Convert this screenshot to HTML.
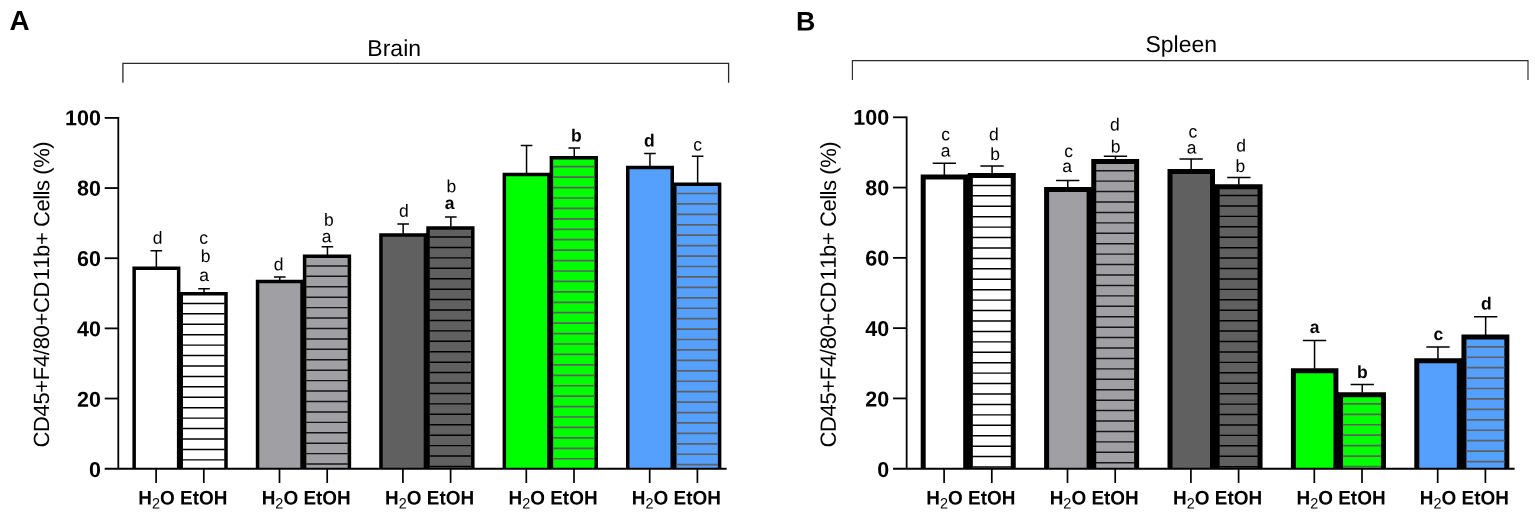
<!DOCTYPE html>
<html lang="en">
<head>
<meta charset="utf-8">
<title>CD45+F4/80+CD11b+ Cells in Brain and Spleen</title>
<style>
html,body{margin:0;padding:0;background:#fff;}
body{width:1535px;height:514px;overflow:hidden;font-family:"Liberation Sans",Arial,sans-serif;}
svg{display:block;}
text{font-family:"Liberation Sans",Arial,sans-serif;fill:#000;}
.yt{font-size:21.5px;font-weight:bold;text-anchor:end;}
.xl{font-size:18.95px;font-weight:bold;}
.sub{font-size:14.5px;font-weight:normal;}
.ln{font-size:17.5px;text-anchor:middle;}
.lb{font-size:17.5px;font-weight:bold;text-anchor:middle;}
.yl{font-size:22px;text-anchor:middle;letter-spacing:-0.34px;font-kerning:none;}
.tt{font-size:23px;text-anchor:middle;}
.pl{font-size:27.8px;font-weight:bold;}
</style>
</head>
<body>
<svg width="1535" height="514" viewBox="0 0 1535 514">
<rect width="1535" height="514" fill="#fff"/>
<g id="panelA">
<path d="M134.15 468.70V268.20H178.65V468.70" fill="#ffffff" stroke="#000" stroke-width="3.5"/>
<path d="M156.35 266.95V250.80M150.55 250.80H162.15" stroke="#000" stroke-width="1.5" fill="none"/>
<path d="M181.20 468.70V293.80H226.00V468.70" fill="#ffffff" stroke="#000" stroke-width="3.5"/>
<path d="M179.45 292.05V468.70" stroke="#000" stroke-width="1.6" fill="none"/>
<line x1="182.65" x2="224.55" y1="303.40" y2="303.40" stroke="#000" stroke-width="1.45"/>
<line x1="182.65" x2="224.55" y1="313.83" y2="313.83" stroke="#000" stroke-width="1.45"/>
<line x1="182.65" x2="224.55" y1="324.26" y2="324.26" stroke="#000" stroke-width="1.45"/>
<line x1="182.65" x2="224.55" y1="334.69" y2="334.69" stroke="#000" stroke-width="1.45"/>
<line x1="182.65" x2="224.55" y1="345.12" y2="345.12" stroke="#000" stroke-width="1.45"/>
<line x1="182.65" x2="224.55" y1="355.55" y2="355.55" stroke="#000" stroke-width="1.45"/>
<line x1="182.65" x2="224.55" y1="365.98" y2="365.98" stroke="#000" stroke-width="1.45"/>
<line x1="182.65" x2="224.55" y1="376.41" y2="376.41" stroke="#000" stroke-width="1.45"/>
<line x1="182.65" x2="224.55" y1="386.84" y2="386.84" stroke="#000" stroke-width="1.45"/>
<line x1="182.65" x2="224.55" y1="397.27" y2="397.27" stroke="#000" stroke-width="1.45"/>
<line x1="182.65" x2="224.55" y1="407.70" y2="407.70" stroke="#000" stroke-width="1.45"/>
<line x1="182.65" x2="224.55" y1="418.13" y2="418.13" stroke="#000" stroke-width="1.45"/>
<line x1="182.65" x2="224.55" y1="428.56" y2="428.56" stroke="#000" stroke-width="1.45"/>
<line x1="182.65" x2="224.55" y1="438.99" y2="438.99" stroke="#000" stroke-width="1.45"/>
<line x1="182.65" x2="224.55" y1="449.42" y2="449.42" stroke="#000" stroke-width="1.45"/>
<line x1="182.65" x2="224.55" y1="459.85" y2="459.85" stroke="#000" stroke-width="1.45"/>
<path d="M204.05 292.55V288.70M198.25 288.70H209.85" stroke="#000" stroke-width="1.5" fill="none"/>
<path d="M257.55 468.70V281.60H302.05V468.70" fill="#a0a0a4" stroke="#000" stroke-width="3.5"/>
<path d="M279.75 280.35V277.00M273.95 277.00H285.55" stroke="#000" stroke-width="1.5" fill="none"/>
<path d="M304.60 468.70V256.20H349.40V468.70" fill="#a0a0a4" stroke="#000" stroke-width="3.5"/>
<path d="M302.85 279.85V468.70" stroke="#000" stroke-width="1.6" fill="none"/>
<line x1="306.05" x2="347.95" y1="265.90" y2="265.90" stroke="#151515" stroke-width="1.45"/>
<line x1="306.05" x2="347.95" y1="276.33" y2="276.33" stroke="#151515" stroke-width="1.45"/>
<line x1="306.05" x2="347.95" y1="286.76" y2="286.76" stroke="#151515" stroke-width="1.45"/>
<line x1="306.05" x2="347.95" y1="297.19" y2="297.19" stroke="#151515" stroke-width="1.45"/>
<line x1="306.05" x2="347.95" y1="307.62" y2="307.62" stroke="#151515" stroke-width="1.45"/>
<line x1="306.05" x2="347.95" y1="318.05" y2="318.05" stroke="#151515" stroke-width="1.45"/>
<line x1="306.05" x2="347.95" y1="328.48" y2="328.48" stroke="#151515" stroke-width="1.45"/>
<line x1="306.05" x2="347.95" y1="338.91" y2="338.91" stroke="#151515" stroke-width="1.45"/>
<line x1="306.05" x2="347.95" y1="349.34" y2="349.34" stroke="#151515" stroke-width="1.45"/>
<line x1="306.05" x2="347.95" y1="359.77" y2="359.77" stroke="#151515" stroke-width="1.45"/>
<line x1="306.05" x2="347.95" y1="370.20" y2="370.20" stroke="#151515" stroke-width="1.45"/>
<line x1="306.05" x2="347.95" y1="380.63" y2="380.63" stroke="#151515" stroke-width="1.45"/>
<line x1="306.05" x2="347.95" y1="391.06" y2="391.06" stroke="#151515" stroke-width="1.45"/>
<line x1="306.05" x2="347.95" y1="401.49" y2="401.49" stroke="#151515" stroke-width="1.45"/>
<line x1="306.05" x2="347.95" y1="411.92" y2="411.92" stroke="#151515" stroke-width="1.45"/>
<line x1="306.05" x2="347.95" y1="422.35" y2="422.35" stroke="#151515" stroke-width="1.45"/>
<line x1="306.05" x2="347.95" y1="432.78" y2="432.78" stroke="#151515" stroke-width="1.45"/>
<line x1="306.05" x2="347.95" y1="443.21" y2="443.21" stroke="#151515" stroke-width="1.45"/>
<line x1="306.05" x2="347.95" y1="453.64" y2="453.64" stroke="#151515" stroke-width="1.45"/>
<line x1="306.05" x2="347.95" y1="464.07" y2="464.07" stroke="#151515" stroke-width="1.45"/>
<path d="M327.45 254.95V246.70M321.65 246.70H333.25" stroke="#000" stroke-width="1.5" fill="none"/>
<path d="M380.95 468.70V234.90H425.45V468.70" fill="#606060" stroke="#000" stroke-width="3.5"/>
<path d="M403.15 233.65V223.90M397.35 223.90H408.95" stroke="#000" stroke-width="1.5" fill="none"/>
<path d="M428.00 468.70V227.90H472.80V468.70" fill="#606060" stroke="#000" stroke-width="3.5"/>
<path d="M426.25 233.15V468.70" stroke="#000" stroke-width="1.6" fill="none"/>
<line x1="429.45" x2="471.35" y1="237.00" y2="237.00" stroke="#000" stroke-width="1.45"/>
<line x1="429.45" x2="471.35" y1="247.43" y2="247.43" stroke="#000" stroke-width="1.45"/>
<line x1="429.45" x2="471.35" y1="257.86" y2="257.86" stroke="#000" stroke-width="1.45"/>
<line x1="429.45" x2="471.35" y1="268.29" y2="268.29" stroke="#000" stroke-width="1.45"/>
<line x1="429.45" x2="471.35" y1="278.72" y2="278.72" stroke="#000" stroke-width="1.45"/>
<line x1="429.45" x2="471.35" y1="289.15" y2="289.15" stroke="#000" stroke-width="1.45"/>
<line x1="429.45" x2="471.35" y1="299.58" y2="299.58" stroke="#000" stroke-width="1.45"/>
<line x1="429.45" x2="471.35" y1="310.01" y2="310.01" stroke="#000" stroke-width="1.45"/>
<line x1="429.45" x2="471.35" y1="320.44" y2="320.44" stroke="#000" stroke-width="1.45"/>
<line x1="429.45" x2="471.35" y1="330.87" y2="330.87" stroke="#000" stroke-width="1.45"/>
<line x1="429.45" x2="471.35" y1="341.30" y2="341.30" stroke="#000" stroke-width="1.45"/>
<line x1="429.45" x2="471.35" y1="351.73" y2="351.73" stroke="#000" stroke-width="1.45"/>
<line x1="429.45" x2="471.35" y1="362.16" y2="362.16" stroke="#000" stroke-width="1.45"/>
<line x1="429.45" x2="471.35" y1="372.59" y2="372.59" stroke="#000" stroke-width="1.45"/>
<line x1="429.45" x2="471.35" y1="383.02" y2="383.02" stroke="#000" stroke-width="1.45"/>
<line x1="429.45" x2="471.35" y1="393.45" y2="393.45" stroke="#000" stroke-width="1.45"/>
<line x1="429.45" x2="471.35" y1="403.88" y2="403.88" stroke="#000" stroke-width="1.45"/>
<line x1="429.45" x2="471.35" y1="414.31" y2="414.31" stroke="#000" stroke-width="1.45"/>
<line x1="429.45" x2="471.35" y1="424.74" y2="424.74" stroke="#000" stroke-width="1.45"/>
<line x1="429.45" x2="471.35" y1="435.17" y2="435.17" stroke="#000" stroke-width="1.45"/>
<line x1="429.45" x2="471.35" y1="445.60" y2="445.60" stroke="#000" stroke-width="1.45"/>
<line x1="429.45" x2="471.35" y1="456.03" y2="456.03" stroke="#000" stroke-width="1.45"/>
<line x1="429.45" x2="471.35" y1="466.46" y2="466.46" stroke="#000" stroke-width="1.45"/>
<path d="M450.85 226.65V217.00M445.05 217.00H456.65" stroke="#000" stroke-width="1.5" fill="none"/>
<path d="M504.35 468.70V174.60H548.85V468.70" fill="#00ff00" stroke="#000" stroke-width="3.5"/>
<path d="M526.55 173.35V145.50M520.75 145.50H532.35" stroke="#000" stroke-width="1.5" fill="none"/>
<path d="M551.40 468.70V157.80H596.20V468.70" fill="#00ff00" stroke="#000" stroke-width="3.5"/>
<path d="M549.65 172.85V468.70" stroke="#000" stroke-width="1.6" fill="none"/>
<line x1="552.85" x2="594.75" y1="166.70" y2="166.70" stroke="#5e5e5e" stroke-width="1.7"/>
<line x1="552.85" x2="594.75" y1="177.13" y2="177.13" stroke="#5e5e5e" stroke-width="1.7"/>
<line x1="552.85" x2="594.75" y1="187.56" y2="187.56" stroke="#5e5e5e" stroke-width="1.7"/>
<line x1="552.85" x2="594.75" y1="197.99" y2="197.99" stroke="#5e5e5e" stroke-width="1.7"/>
<line x1="552.85" x2="594.75" y1="208.42" y2="208.42" stroke="#5e5e5e" stroke-width="1.7"/>
<line x1="552.85" x2="594.75" y1="218.85" y2="218.85" stroke="#5e5e5e" stroke-width="1.7"/>
<line x1="552.85" x2="594.75" y1="229.28" y2="229.28" stroke="#5e5e5e" stroke-width="1.7"/>
<line x1="552.85" x2="594.75" y1="239.71" y2="239.71" stroke="#5e5e5e" stroke-width="1.7"/>
<line x1="552.85" x2="594.75" y1="250.14" y2="250.14" stroke="#5e5e5e" stroke-width="1.7"/>
<line x1="552.85" x2="594.75" y1="260.57" y2="260.57" stroke="#5e5e5e" stroke-width="1.7"/>
<line x1="552.85" x2="594.75" y1="271.00" y2="271.00" stroke="#5e5e5e" stroke-width="1.7"/>
<line x1="552.85" x2="594.75" y1="281.43" y2="281.43" stroke="#5e5e5e" stroke-width="1.7"/>
<line x1="552.85" x2="594.75" y1="291.86" y2="291.86" stroke="#5e5e5e" stroke-width="1.7"/>
<line x1="552.85" x2="594.75" y1="302.29" y2="302.29" stroke="#5e5e5e" stroke-width="1.7"/>
<line x1="552.85" x2="594.75" y1="312.72" y2="312.72" stroke="#5e5e5e" stroke-width="1.7"/>
<line x1="552.85" x2="594.75" y1="323.15" y2="323.15" stroke="#5e5e5e" stroke-width="1.7"/>
<line x1="552.85" x2="594.75" y1="333.58" y2="333.58" stroke="#5e5e5e" stroke-width="1.7"/>
<line x1="552.85" x2="594.75" y1="344.01" y2="344.01" stroke="#5e5e5e" stroke-width="1.7"/>
<line x1="552.85" x2="594.75" y1="354.44" y2="354.44" stroke="#5e5e5e" stroke-width="1.7"/>
<line x1="552.85" x2="594.75" y1="364.87" y2="364.87" stroke="#5e5e5e" stroke-width="1.7"/>
<line x1="552.85" x2="594.75" y1="375.30" y2="375.30" stroke="#5e5e5e" stroke-width="1.7"/>
<line x1="552.85" x2="594.75" y1="385.73" y2="385.73" stroke="#5e5e5e" stroke-width="1.7"/>
<line x1="552.85" x2="594.75" y1="396.16" y2="396.16" stroke="#5e5e5e" stroke-width="1.7"/>
<line x1="552.85" x2="594.75" y1="406.59" y2="406.59" stroke="#5e5e5e" stroke-width="1.7"/>
<line x1="552.85" x2="594.75" y1="417.02" y2="417.02" stroke="#5e5e5e" stroke-width="1.7"/>
<line x1="552.85" x2="594.75" y1="427.45" y2="427.45" stroke="#5e5e5e" stroke-width="1.7"/>
<line x1="552.85" x2="594.75" y1="437.88" y2="437.88" stroke="#5e5e5e" stroke-width="1.7"/>
<line x1="552.85" x2="594.75" y1="448.31" y2="448.31" stroke="#5e5e5e" stroke-width="1.7"/>
<line x1="552.85" x2="594.75" y1="458.74" y2="458.74" stroke="#5e5e5e" stroke-width="1.7"/>
<path d="M574.25 156.55V147.90M568.45 147.90H580.05" stroke="#000" stroke-width="1.5" fill="none"/>
<path d="M627.75 468.70V167.40H672.25V468.70" fill="#55a0fd" stroke="#000" stroke-width="3.5"/>
<path d="M649.95 166.15V153.50M644.15 153.50H655.75" stroke="#000" stroke-width="1.5" fill="none"/>
<path d="M674.80 468.70V184.20H719.60V468.70" fill="#55a0fd" stroke="#000" stroke-width="3.5"/>
<path d="M673.05 182.45V468.70" stroke="#000" stroke-width="1.6" fill="none"/>
<line x1="676.25" x2="718.15" y1="193.50" y2="193.50" stroke="#5e6066" stroke-width="1.7"/>
<line x1="676.25" x2="718.15" y1="203.93" y2="203.93" stroke="#5e6066" stroke-width="1.7"/>
<line x1="676.25" x2="718.15" y1="214.36" y2="214.36" stroke="#5e6066" stroke-width="1.7"/>
<line x1="676.25" x2="718.15" y1="224.79" y2="224.79" stroke="#5e6066" stroke-width="1.7"/>
<line x1="676.25" x2="718.15" y1="235.22" y2="235.22" stroke="#5e6066" stroke-width="1.7"/>
<line x1="676.25" x2="718.15" y1="245.65" y2="245.65" stroke="#5e6066" stroke-width="1.7"/>
<line x1="676.25" x2="718.15" y1="256.08" y2="256.08" stroke="#5e6066" stroke-width="1.7"/>
<line x1="676.25" x2="718.15" y1="266.51" y2="266.51" stroke="#5e6066" stroke-width="1.7"/>
<line x1="676.25" x2="718.15" y1="276.94" y2="276.94" stroke="#5e6066" stroke-width="1.7"/>
<line x1="676.25" x2="718.15" y1="287.37" y2="287.37" stroke="#5e6066" stroke-width="1.7"/>
<line x1="676.25" x2="718.15" y1="297.80" y2="297.80" stroke="#5e6066" stroke-width="1.7"/>
<line x1="676.25" x2="718.15" y1="308.23" y2="308.23" stroke="#5e6066" stroke-width="1.7"/>
<line x1="676.25" x2="718.15" y1="318.66" y2="318.66" stroke="#5e6066" stroke-width="1.7"/>
<line x1="676.25" x2="718.15" y1="329.09" y2="329.09" stroke="#5e6066" stroke-width="1.7"/>
<line x1="676.25" x2="718.15" y1="339.52" y2="339.52" stroke="#5e6066" stroke-width="1.7"/>
<line x1="676.25" x2="718.15" y1="349.95" y2="349.95" stroke="#5e6066" stroke-width="1.7"/>
<line x1="676.25" x2="718.15" y1="360.38" y2="360.38" stroke="#5e6066" stroke-width="1.7"/>
<line x1="676.25" x2="718.15" y1="370.81" y2="370.81" stroke="#5e6066" stroke-width="1.7"/>
<line x1="676.25" x2="718.15" y1="381.24" y2="381.24" stroke="#5e6066" stroke-width="1.7"/>
<line x1="676.25" x2="718.15" y1="391.67" y2="391.67" stroke="#5e6066" stroke-width="1.7"/>
<line x1="676.25" x2="718.15" y1="402.10" y2="402.10" stroke="#5e6066" stroke-width="1.7"/>
<line x1="676.25" x2="718.15" y1="412.53" y2="412.53" stroke="#5e6066" stroke-width="1.7"/>
<line x1="676.25" x2="718.15" y1="422.96" y2="422.96" stroke="#5e6066" stroke-width="1.7"/>
<line x1="676.25" x2="718.15" y1="433.39" y2="433.39" stroke="#5e6066" stroke-width="1.7"/>
<line x1="676.25" x2="718.15" y1="443.82" y2="443.82" stroke="#5e6066" stroke-width="1.7"/>
<line x1="676.25" x2="718.15" y1="454.25" y2="454.25" stroke="#5e6066" stroke-width="1.7"/>
<line x1="676.25" x2="718.15" y1="464.68" y2="464.68" stroke="#5e6066" stroke-width="1.7"/>
<path d="M697.65 182.95V156.30M691.85 156.30H703.45" stroke="#000" stroke-width="1.5" fill="none"/>
<path d="M118.30 117.00V468.70" stroke="#000" stroke-width="1.8" fill="none"/>
<path d="M104.70 468.70H726.65" stroke="#000" stroke-width="2" fill="none"/>
<path d="M104.70 398.54H118.30" stroke="#000" stroke-width="1.8" fill="none"/>
<path d="M104.70 328.38H118.30" stroke="#000" stroke-width="1.8" fill="none"/>
<path d="M104.70 258.22H118.30" stroke="#000" stroke-width="1.8" fill="none"/>
<path d="M104.70 188.06H118.30" stroke="#000" stroke-width="1.8" fill="none"/>
<path d="M104.70 117.90H118.30" stroke="#000" stroke-width="1.8" fill="none"/>
<text class="yt" transform="translate(100.90 477.00) matrix(1 0.001 0 1 0 0)">0</text>
<text class="yt" transform="translate(100.90 406.66) matrix(1 0.001 0 1 0 0)">20</text>
<text class="yt" transform="translate(100.90 336.32) matrix(1 0.001 0 1 0 0)">40</text>
<text class="yt" transform="translate(100.90 265.98) matrix(1 0.001 0 1 0 0)">60</text>
<text class="yt" transform="translate(100.90 195.64) matrix(1 0.001 0 1 0 0)">80</text>
<text class="yt" transform="translate(100.90 125.30) matrix(1 0.001 0 1 0 0)">100</text>
<path d="M156.10 468.70V483" stroke="#000" stroke-width="1.7" fill="none"/>
<path d="M203.80 468.70V483" stroke="#000" stroke-width="1.7" fill="none"/>
<text class="xl" transform="translate(138.25 504.4) matrix(1 0.001 0 1.045 0 0)">H<tspan class="sub" dy="4.0">2</tspan><tspan dy="-4.0">O EtOH</tspan></text>
<path d="M279.50 468.70V483" stroke="#000" stroke-width="1.7" fill="none"/>
<path d="M327.20 468.70V483" stroke="#000" stroke-width="1.7" fill="none"/>
<text class="xl" transform="translate(261.65 504.4) matrix(1 0.001 0 1.045 0 0)">H<tspan class="sub" dy="4.0">2</tspan><tspan dy="-4.0">O EtOH</tspan></text>
<path d="M402.90 468.70V483" stroke="#000" stroke-width="1.7" fill="none"/>
<path d="M450.60 468.70V483" stroke="#000" stroke-width="1.7" fill="none"/>
<text class="xl" transform="translate(385.05 504.4) matrix(1 0.001 0 1.045 0 0)">H<tspan class="sub" dy="4.0">2</tspan><tspan dy="-4.0">O EtOH</tspan></text>
<path d="M526.30 468.70V483" stroke="#000" stroke-width="1.7" fill="none"/>
<path d="M574.00 468.70V483" stroke="#000" stroke-width="1.7" fill="none"/>
<text class="xl" transform="translate(508.45 504.4) matrix(1 0.001 0 1.045 0 0)">H<tspan class="sub" dy="4.0">2</tspan><tspan dy="-4.0">O EtOH</tspan></text>
<path d="M649.70 468.70V483" stroke="#000" stroke-width="1.7" fill="none"/>
<path d="M697.40 468.70V483" stroke="#000" stroke-width="1.7" fill="none"/>
<text class="xl" transform="translate(631.85 504.4) matrix(1 0.001 0 1.045 0 0)">H<tspan class="sub" dy="4.0">2</tspan><tspan dy="-4.0">O EtOH</tspan></text>
<text class="ln" transform="translate(157.5 243.8) matrix(1 0.001 0 1 0 0)">d</text>
<text class="ln" transform="translate(203.5 243.7) matrix(1 0.001 0 1 0 0)">c</text>
<text class="ln" transform="translate(205.5 262.0) matrix(1 0.001 0 1 0 0)">b</text>
<text class="ln" transform="translate(204.0 281.1) matrix(1 0.001 0 1 0 0)">a</text>
<text class="ln" transform="translate(278.6 270.3) matrix(1 0.001 0 1 0 0)">d</text>
<text class="ln" transform="translate(328.8 225.8) matrix(1 0.001 0 1 0 0)">b</text>
<text class="ln" transform="translate(326.5 242.2) matrix(1 0.001 0 1 0 0)">a</text>
<text class="ln" transform="translate(403.9 216.8) matrix(1 0.001 0 1 0 0)">d</text>
<text class="ln" transform="translate(451.4 192.2) matrix(1 0.001 0 1 0 0)">b</text>
<text class="lb" transform="translate(449.6 208.9) matrix(1 0.001 0 1 0 0)">a</text>
<text class="lb" transform="translate(576.4 141.4) matrix(1 0.001 0 1 0 0)">b</text>
<text class="lb" transform="translate(649.4 146.4) matrix(1 0.001 0 1 0 0)">d</text>
<text class="ln" transform="translate(697.5 150.6) matrix(1 0.001 0 1 0 0)">c</text>
<text class="yl" transform="translate(49.1 294.7) rotate(-89.95)">CD45+F4/80+CD<tspan dx="1.5" style="letter-spacing:-0.45px">11b+ Cells (%)</tspan></text>
<path d="M122.9 82.7V63.3H728.6V82.7" stroke="#2a2a2a" stroke-width="1.3" fill="none"/>
<text class="tt" transform="translate(394.2 56.0) matrix(1 0.001 0 1 0 0)">Brain</text>
<text class="pl" style="font-size:27.8px" transform="translate(9.6 30.1) matrix(1 0.001 0 1 0 0)">A</text>
</g>
<g id="panelB">
<path d="M923.20 468.70V177.00H965.70V468.70" fill="#ffffff" stroke="#000" stroke-width="5.0"/>
<path d="M944.35 175.00V163.20M932.70 163.20H956.00" stroke="#000" stroke-width="1.5" fill="none"/>
<path d="M970.35 468.70V175.60H1013.25V468.70" fill="#ffffff" stroke="#000" stroke-width="5.0"/>
<path d="M967.85 174.50V468.70" stroke="#000" stroke-width="1.6" fill="none"/>
<line x1="972.55" x2="1011.05" y1="185.40" y2="185.40" stroke="#000" stroke-width="1.45"/>
<line x1="972.55" x2="1011.05" y1="195.83" y2="195.83" stroke="#000" stroke-width="1.45"/>
<line x1="972.55" x2="1011.05" y1="206.26" y2="206.26" stroke="#000" stroke-width="1.45"/>
<line x1="972.55" x2="1011.05" y1="216.69" y2="216.69" stroke="#000" stroke-width="1.45"/>
<line x1="972.55" x2="1011.05" y1="227.12" y2="227.12" stroke="#000" stroke-width="1.45"/>
<line x1="972.55" x2="1011.05" y1="237.55" y2="237.55" stroke="#000" stroke-width="1.45"/>
<line x1="972.55" x2="1011.05" y1="247.98" y2="247.98" stroke="#000" stroke-width="1.45"/>
<line x1="972.55" x2="1011.05" y1="258.41" y2="258.41" stroke="#000" stroke-width="1.45"/>
<line x1="972.55" x2="1011.05" y1="268.84" y2="268.84" stroke="#000" stroke-width="1.45"/>
<line x1="972.55" x2="1011.05" y1="279.27" y2="279.27" stroke="#000" stroke-width="1.45"/>
<line x1="972.55" x2="1011.05" y1="289.70" y2="289.70" stroke="#000" stroke-width="1.45"/>
<line x1="972.55" x2="1011.05" y1="300.13" y2="300.13" stroke="#000" stroke-width="1.45"/>
<line x1="972.55" x2="1011.05" y1="310.56" y2="310.56" stroke="#000" stroke-width="1.45"/>
<line x1="972.55" x2="1011.05" y1="320.99" y2="320.99" stroke="#000" stroke-width="1.45"/>
<line x1="972.55" x2="1011.05" y1="331.42" y2="331.42" stroke="#000" stroke-width="1.45"/>
<line x1="972.55" x2="1011.05" y1="341.85" y2="341.85" stroke="#000" stroke-width="1.45"/>
<line x1="972.55" x2="1011.05" y1="352.28" y2="352.28" stroke="#000" stroke-width="1.45"/>
<line x1="972.55" x2="1011.05" y1="362.71" y2="362.71" stroke="#000" stroke-width="1.45"/>
<line x1="972.55" x2="1011.05" y1="373.14" y2="373.14" stroke="#000" stroke-width="1.45"/>
<line x1="972.55" x2="1011.05" y1="383.57" y2="383.57" stroke="#000" stroke-width="1.45"/>
<line x1="972.55" x2="1011.05" y1="394.00" y2="394.00" stroke="#000" stroke-width="1.45"/>
<line x1="972.55" x2="1011.05" y1="404.43" y2="404.43" stroke="#000" stroke-width="1.45"/>
<line x1="972.55" x2="1011.05" y1="414.86" y2="414.86" stroke="#000" stroke-width="1.45"/>
<line x1="972.55" x2="1011.05" y1="425.29" y2="425.29" stroke="#000" stroke-width="1.45"/>
<line x1="972.55" x2="1011.05" y1="435.72" y2="435.72" stroke="#000" stroke-width="1.45"/>
<line x1="972.55" x2="1011.05" y1="446.15" y2="446.15" stroke="#000" stroke-width="1.45"/>
<line x1="972.55" x2="1011.05" y1="456.58" y2="456.58" stroke="#000" stroke-width="1.45"/>
<line x1="972.55" x2="1011.05" y1="467.01" y2="467.01" stroke="#000" stroke-width="1.45"/>
<path d="M992.05 173.60V166.00M980.40 166.00H1003.70" stroke="#000" stroke-width="1.5" fill="none"/>
<path d="M1046.60 468.70V189.60H1089.10V468.70" fill="#a0a0a4" stroke="#000" stroke-width="5.0"/>
<path d="M1067.75 187.60V180.60M1056.10 180.60H1079.40" stroke="#000" stroke-width="1.5" fill="none"/>
<path d="M1093.75 468.70V161.50H1136.65V468.70" fill="#a0a0a4" stroke="#000" stroke-width="5.0"/>
<path d="M1091.25 187.10V468.70" stroke="#000" stroke-width="1.6" fill="none"/>
<line x1="1095.95" x2="1134.45" y1="170.70" y2="170.70" stroke="#151515" stroke-width="1.45"/>
<line x1="1095.95" x2="1134.45" y1="181.13" y2="181.13" stroke="#151515" stroke-width="1.45"/>
<line x1="1095.95" x2="1134.45" y1="191.56" y2="191.56" stroke="#151515" stroke-width="1.45"/>
<line x1="1095.95" x2="1134.45" y1="201.99" y2="201.99" stroke="#151515" stroke-width="1.45"/>
<line x1="1095.95" x2="1134.45" y1="212.42" y2="212.42" stroke="#151515" stroke-width="1.45"/>
<line x1="1095.95" x2="1134.45" y1="222.85" y2="222.85" stroke="#151515" stroke-width="1.45"/>
<line x1="1095.95" x2="1134.45" y1="233.28" y2="233.28" stroke="#151515" stroke-width="1.45"/>
<line x1="1095.95" x2="1134.45" y1="243.71" y2="243.71" stroke="#151515" stroke-width="1.45"/>
<line x1="1095.95" x2="1134.45" y1="254.14" y2="254.14" stroke="#151515" stroke-width="1.45"/>
<line x1="1095.95" x2="1134.45" y1="264.57" y2="264.57" stroke="#151515" stroke-width="1.45"/>
<line x1="1095.95" x2="1134.45" y1="275.00" y2="275.00" stroke="#151515" stroke-width="1.45"/>
<line x1="1095.95" x2="1134.45" y1="285.43" y2="285.43" stroke="#151515" stroke-width="1.45"/>
<line x1="1095.95" x2="1134.45" y1="295.86" y2="295.86" stroke="#151515" stroke-width="1.45"/>
<line x1="1095.95" x2="1134.45" y1="306.29" y2="306.29" stroke="#151515" stroke-width="1.45"/>
<line x1="1095.95" x2="1134.45" y1="316.72" y2="316.72" stroke="#151515" stroke-width="1.45"/>
<line x1="1095.95" x2="1134.45" y1="327.15" y2="327.15" stroke="#151515" stroke-width="1.45"/>
<line x1="1095.95" x2="1134.45" y1="337.58" y2="337.58" stroke="#151515" stroke-width="1.45"/>
<line x1="1095.95" x2="1134.45" y1="348.01" y2="348.01" stroke="#151515" stroke-width="1.45"/>
<line x1="1095.95" x2="1134.45" y1="358.44" y2="358.44" stroke="#151515" stroke-width="1.45"/>
<line x1="1095.95" x2="1134.45" y1="368.87" y2="368.87" stroke="#151515" stroke-width="1.45"/>
<line x1="1095.95" x2="1134.45" y1="379.30" y2="379.30" stroke="#151515" stroke-width="1.45"/>
<line x1="1095.95" x2="1134.45" y1="389.73" y2="389.73" stroke="#151515" stroke-width="1.45"/>
<line x1="1095.95" x2="1134.45" y1="400.16" y2="400.16" stroke="#151515" stroke-width="1.45"/>
<line x1="1095.95" x2="1134.45" y1="410.59" y2="410.59" stroke="#151515" stroke-width="1.45"/>
<line x1="1095.95" x2="1134.45" y1="421.02" y2="421.02" stroke="#151515" stroke-width="1.45"/>
<line x1="1095.95" x2="1134.45" y1="431.45" y2="431.45" stroke="#151515" stroke-width="1.45"/>
<line x1="1095.95" x2="1134.45" y1="441.88" y2="441.88" stroke="#151515" stroke-width="1.45"/>
<line x1="1095.95" x2="1134.45" y1="452.31" y2="452.31" stroke="#151515" stroke-width="1.45"/>
<line x1="1095.95" x2="1134.45" y1="462.74" y2="462.74" stroke="#151515" stroke-width="1.45"/>
<path d="M1115.45 159.50V156.30M1103.80 156.30H1127.10" stroke="#000" stroke-width="1.5" fill="none"/>
<path d="M1170.00 468.70V171.40H1212.50V468.70" fill="#606060" stroke="#000" stroke-width="5.0"/>
<path d="M1191.15 169.40V159.10M1179.50 159.10H1202.80" stroke="#000" stroke-width="1.5" fill="none"/>
<path d="M1217.15 468.70V186.80H1260.05V468.70" fill="#606060" stroke="#000" stroke-width="5.0"/>
<path d="M1214.65 184.30V468.70" stroke="#000" stroke-width="1.6" fill="none"/>
<line x1="1219.35" x2="1257.85" y1="195.50" y2="195.50" stroke="#000" stroke-width="1.45"/>
<line x1="1219.35" x2="1257.85" y1="205.93" y2="205.93" stroke="#000" stroke-width="1.45"/>
<line x1="1219.35" x2="1257.85" y1="216.36" y2="216.36" stroke="#000" stroke-width="1.45"/>
<line x1="1219.35" x2="1257.85" y1="226.79" y2="226.79" stroke="#000" stroke-width="1.45"/>
<line x1="1219.35" x2="1257.85" y1="237.22" y2="237.22" stroke="#000" stroke-width="1.45"/>
<line x1="1219.35" x2="1257.85" y1="247.65" y2="247.65" stroke="#000" stroke-width="1.45"/>
<line x1="1219.35" x2="1257.85" y1="258.08" y2="258.08" stroke="#000" stroke-width="1.45"/>
<line x1="1219.35" x2="1257.85" y1="268.51" y2="268.51" stroke="#000" stroke-width="1.45"/>
<line x1="1219.35" x2="1257.85" y1="278.94" y2="278.94" stroke="#000" stroke-width="1.45"/>
<line x1="1219.35" x2="1257.85" y1="289.37" y2="289.37" stroke="#000" stroke-width="1.45"/>
<line x1="1219.35" x2="1257.85" y1="299.80" y2="299.80" stroke="#000" stroke-width="1.45"/>
<line x1="1219.35" x2="1257.85" y1="310.23" y2="310.23" stroke="#000" stroke-width="1.45"/>
<line x1="1219.35" x2="1257.85" y1="320.66" y2="320.66" stroke="#000" stroke-width="1.45"/>
<line x1="1219.35" x2="1257.85" y1="331.09" y2="331.09" stroke="#000" stroke-width="1.45"/>
<line x1="1219.35" x2="1257.85" y1="341.52" y2="341.52" stroke="#000" stroke-width="1.45"/>
<line x1="1219.35" x2="1257.85" y1="351.95" y2="351.95" stroke="#000" stroke-width="1.45"/>
<line x1="1219.35" x2="1257.85" y1="362.38" y2="362.38" stroke="#000" stroke-width="1.45"/>
<line x1="1219.35" x2="1257.85" y1="372.81" y2="372.81" stroke="#000" stroke-width="1.45"/>
<line x1="1219.35" x2="1257.85" y1="383.24" y2="383.24" stroke="#000" stroke-width="1.45"/>
<line x1="1219.35" x2="1257.85" y1="393.67" y2="393.67" stroke="#000" stroke-width="1.45"/>
<line x1="1219.35" x2="1257.85" y1="404.10" y2="404.10" stroke="#000" stroke-width="1.45"/>
<line x1="1219.35" x2="1257.85" y1="414.53" y2="414.53" stroke="#000" stroke-width="1.45"/>
<line x1="1219.35" x2="1257.85" y1="424.96" y2="424.96" stroke="#000" stroke-width="1.45"/>
<line x1="1219.35" x2="1257.85" y1="435.39" y2="435.39" stroke="#000" stroke-width="1.45"/>
<line x1="1219.35" x2="1257.85" y1="445.82" y2="445.82" stroke="#000" stroke-width="1.45"/>
<line x1="1219.35" x2="1257.85" y1="456.25" y2="456.25" stroke="#000" stroke-width="1.45"/>
<line x1="1219.35" x2="1257.85" y1="466.68" y2="466.68" stroke="#000" stroke-width="1.45"/>
<path d="M1238.85 184.80V177.40M1227.20 177.40H1250.50" stroke="#000" stroke-width="1.5" fill="none"/>
<path d="M1293.40 468.70V370.70H1335.90V468.70" fill="#00ff00" stroke="#000" stroke-width="5.0"/>
<path d="M1314.55 368.70V340.50M1302.90 340.50H1326.20" stroke="#000" stroke-width="1.5" fill="none"/>
<path d="M1340.55 468.70V394.70H1383.45V468.70" fill="#00ff00" stroke="#000" stroke-width="5.0"/>
<path d="M1338.05 392.20V468.70" stroke="#000" stroke-width="1.6" fill="none"/>
<line x1="1342.75" x2="1381.25" y1="403.90" y2="403.90" stroke="#5e5e5e" stroke-width="1.7"/>
<line x1="1342.75" x2="1381.25" y1="414.33" y2="414.33" stroke="#5e5e5e" stroke-width="1.7"/>
<line x1="1342.75" x2="1381.25" y1="424.76" y2="424.76" stroke="#5e5e5e" stroke-width="1.7"/>
<line x1="1342.75" x2="1381.25" y1="435.19" y2="435.19" stroke="#5e5e5e" stroke-width="1.7"/>
<line x1="1342.75" x2="1381.25" y1="445.62" y2="445.62" stroke="#5e5e5e" stroke-width="1.7"/>
<line x1="1342.75" x2="1381.25" y1="456.05" y2="456.05" stroke="#5e5e5e" stroke-width="1.7"/>
<line x1="1342.75" x2="1381.25" y1="466.48" y2="466.48" stroke="#5e5e5e" stroke-width="1.7"/>
<path d="M1362.25 392.70V384.40M1350.60 384.40H1373.90" stroke="#000" stroke-width="1.5" fill="none"/>
<path d="M1416.80 468.70V360.70H1459.30V468.70" fill="#55a0fd" stroke="#000" stroke-width="5.0"/>
<path d="M1437.95 358.70V347.00M1426.30 347.00H1449.60" stroke="#000" stroke-width="1.5" fill="none"/>
<path d="M1463.95 468.70V337.00H1506.85V468.70" fill="#55a0fd" stroke="#000" stroke-width="5.0"/>
<path d="M1461.45 358.20V468.70" stroke="#000" stroke-width="1.6" fill="none"/>
<line x1="1466.15" x2="1504.65" y1="346.80" y2="346.80" stroke="#5e6066" stroke-width="1.7"/>
<line x1="1466.15" x2="1504.65" y1="357.23" y2="357.23" stroke="#5e6066" stroke-width="1.7"/>
<line x1="1466.15" x2="1504.65" y1="367.66" y2="367.66" stroke="#5e6066" stroke-width="1.7"/>
<line x1="1466.15" x2="1504.65" y1="378.09" y2="378.09" stroke="#5e6066" stroke-width="1.7"/>
<line x1="1466.15" x2="1504.65" y1="388.52" y2="388.52" stroke="#5e6066" stroke-width="1.7"/>
<line x1="1466.15" x2="1504.65" y1="398.95" y2="398.95" stroke="#5e6066" stroke-width="1.7"/>
<line x1="1466.15" x2="1504.65" y1="409.38" y2="409.38" stroke="#5e6066" stroke-width="1.7"/>
<line x1="1466.15" x2="1504.65" y1="419.81" y2="419.81" stroke="#5e6066" stroke-width="1.7"/>
<line x1="1466.15" x2="1504.65" y1="430.24" y2="430.24" stroke="#5e6066" stroke-width="1.7"/>
<line x1="1466.15" x2="1504.65" y1="440.67" y2="440.67" stroke="#5e6066" stroke-width="1.7"/>
<line x1="1466.15" x2="1504.65" y1="451.10" y2="451.10" stroke="#5e6066" stroke-width="1.7"/>
<line x1="1466.15" x2="1504.65" y1="461.53" y2="461.53" stroke="#5e6066" stroke-width="1.7"/>
<path d="M1485.65 335.00V316.80M1474.00 316.80H1497.30" stroke="#000" stroke-width="1.5" fill="none"/>
<path d="M906.65 116.40V468.70" stroke="#000" stroke-width="1.8" fill="none"/>
<path d="M893.05 468.70H1514.65" stroke="#000" stroke-width="2" fill="none"/>
<path d="M893.05 398.42H906.65" stroke="#000" stroke-width="1.8" fill="none"/>
<path d="M893.05 328.14H906.65" stroke="#000" stroke-width="1.8" fill="none"/>
<path d="M893.05 257.86H906.65" stroke="#000" stroke-width="1.8" fill="none"/>
<path d="M893.05 187.58H906.65" stroke="#000" stroke-width="1.8" fill="none"/>
<path d="M893.05 117.30H906.65" stroke="#000" stroke-width="1.8" fill="none"/>
<text class="yt" transform="translate(889.15 477.00) matrix(1 0.001 0 1 0 0)">0</text>
<text class="yt" transform="translate(889.15 406.54) matrix(1 0.001 0 1 0 0)">20</text>
<text class="yt" transform="translate(889.15 336.08) matrix(1 0.001 0 1 0 0)">40</text>
<text class="yt" transform="translate(889.15 265.62) matrix(1 0.001 0 1 0 0)">60</text>
<text class="yt" transform="translate(889.15 195.16) matrix(1 0.001 0 1 0 0)">80</text>
<text class="yt" transform="translate(889.15 124.70) matrix(1 0.001 0 1 0 0)">100</text>
<path d="M944.10 468.70V483" stroke="#000" stroke-width="1.7" fill="none"/>
<path d="M991.80 468.70V483" stroke="#000" stroke-width="1.7" fill="none"/>
<text class="xl" transform="translate(926.25 504.4) matrix(1 0.001 0 1.045 0 0)">H<tspan class="sub" dy="4.0">2</tspan><tspan dy="-4.0">O EtOH</tspan></text>
<path d="M1067.50 468.70V483" stroke="#000" stroke-width="1.7" fill="none"/>
<path d="M1115.20 468.70V483" stroke="#000" stroke-width="1.7" fill="none"/>
<text class="xl" transform="translate(1049.65 504.4) matrix(1 0.001 0 1.045 0 0)">H<tspan class="sub" dy="4.0">2</tspan><tspan dy="-4.0">O EtOH</tspan></text>
<path d="M1190.90 468.70V483" stroke="#000" stroke-width="1.7" fill="none"/>
<path d="M1238.60 468.70V483" stroke="#000" stroke-width="1.7" fill="none"/>
<text class="xl" transform="translate(1173.05 504.4) matrix(1 0.001 0 1.045 0 0)">H<tspan class="sub" dy="4.0">2</tspan><tspan dy="-4.0">O EtOH</tspan></text>
<path d="M1314.30 468.70V483" stroke="#000" stroke-width="1.7" fill="none"/>
<path d="M1362.00 468.70V483" stroke="#000" stroke-width="1.7" fill="none"/>
<text class="xl" transform="translate(1296.45 504.4) matrix(1 0.001 0 1.045 0 0)">H<tspan class="sub" dy="4.0">2</tspan><tspan dy="-4.0">O EtOH</tspan></text>
<path d="M1437.70 468.70V483" stroke="#000" stroke-width="1.7" fill="none"/>
<path d="M1485.40 468.70V483" stroke="#000" stroke-width="1.7" fill="none"/>
<text class="xl" transform="translate(1419.85 504.4) matrix(1 0.001 0 1.045 0 0)">H<tspan class="sub" dy="4.0">2</tspan><tspan dy="-4.0">O EtOH</tspan></text>
<text class="ln" transform="translate(945.6 140.3) matrix(1 0.001 0 1 0 0)">c</text>
<text class="ln" transform="translate(945.6 156.5) matrix(1 0.001 0 1 0 0)">a</text>
<text class="ln" transform="translate(993.9 140.3) matrix(1 0.001 0 1 0 0)">d</text>
<text class="ln" transform="translate(995.0 159.9) matrix(1 0.001 0 1 0 0)">b</text>
<text class="ln" transform="translate(1068.5 157.1) matrix(1 0.001 0 1 0 0)">c</text>
<text class="ln" transform="translate(1067.2 172.0) matrix(1 0.001 0 1 0 0)">a</text>
<text class="ln" transform="translate(1114.8 130.6) matrix(1 0.001 0 1 0 0)">d</text>
<text class="ln" transform="translate(1115.5 152.4) matrix(1 0.001 0 1 0 0)">b</text>
<text class="ln" transform="translate(1192.9 137.5) matrix(1 0.001 0 1 0 0)">c</text>
<text class="ln" transform="translate(1191.7 153.4) matrix(1 0.001 0 1 0 0)">a</text>
<text class="ln" transform="translate(1241.1 151.5) matrix(1 0.001 0 1 0 0)">d</text>
<text class="ln" transform="translate(1240.4 172.0) matrix(1 0.001 0 1 0 0)">b</text>
<text class="lb" transform="translate(1314.6 333.1) matrix(1 0.001 0 1 0 0)">a</text>
<text class="lb" transform="translate(1362.3 378.1) matrix(1 0.001 0 1 0 0)">b</text>
<text class="lb" transform="translate(1438.4 340.1) matrix(1 0.001 0 1 0 0)">c</text>
<text class="lb" transform="translate(1486.3 309.4) matrix(1 0.001 0 1 0 0)">d</text>
<text class="yl" transform="translate(835.8 294.7) rotate(-89.95)">CD45+F4/80+CD<tspan dx="1.5" style="letter-spacing:-0.45px">11b+ Cells (%)</tspan></text>
<path d="M852.4 80.1V60.6H1528.0V80.1" stroke="#2a2a2a" stroke-width="1.15" fill="none"/>
<text class="tt" transform="translate(1181.3 52.1) matrix(1 0.001 0 1 0 0)">Spleen</text>
<text class="pl" style="font-size:26.8px" transform="translate(796.0 30.5) matrix(1 0.001 0 1 0 0)">B</text>
</g>
</svg>
</body>
</html>
